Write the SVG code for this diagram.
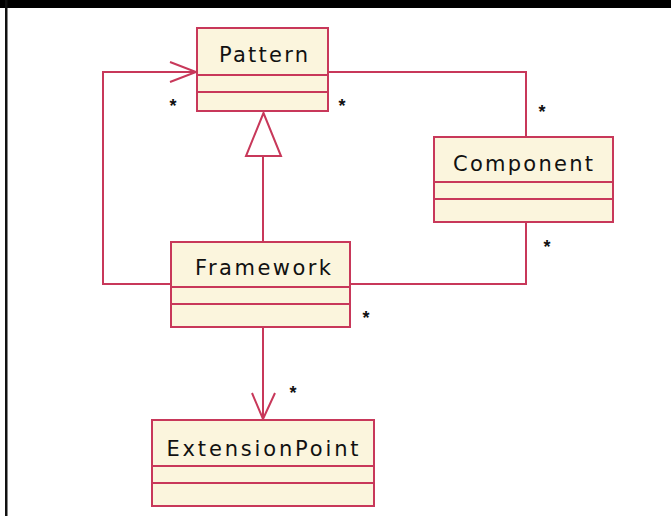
<svg xmlns="http://www.w3.org/2000/svg" width="671" height="516" viewBox="0 0 671 516">
<style>
.box{fill:#fbf5dd;stroke:#c8385a;stroke-width:2}
.sep{stroke:#c8385a;stroke-width:2}
.ln{fill:none;stroke:#c8385a;stroke-width:2}
.lbl{font-family:"DejaVu Sans","Liberation Sans",sans-serif;font-size:21px;fill:#111;text-anchor:middle}
.m{font-family:"Liberation Sans",Arial,sans-serif;font-size:18px;font-weight:bold;fill:#111;text-anchor:middle}
</style>
<rect x="0" y="0" width="671" height="516" fill="#ffffff"/>
<rect x="0" y="0" width="671" height="8" fill="#000"/>
<rect x="5" y="0" width="2.5" height="516" fill="#111"/>
<g id="connectors">
<polyline class="ln" points="171,284 103,284 103,72 196,72"/>
<polyline class="ln" points="170,62 196,72 170,82"/>
<polyline class="ln" points="328,72 526,72 526,137"/>
<polyline class="ln" points="526,222 526,284 350,284"/>
<line class="ln" x1="263" y1="156" x2="263" y2="242"/>
<polygon points="263.5,113 246,156 281,156" fill="#fff" stroke="#c8385a" stroke-width="2"/>
<line class="ln" x1="263" y1="327" x2="263" y2="419"/>
<polyline class="ln" points="252,393 263,419 275,393"/>
<text class="m" x="173" y="112">*</text>
<text class="m" x="342" y="112">*</text>
<text class="m" x="542" y="118">*</text>
<text class="m" x="547" y="253">*</text>
<text class="m" x="366" y="324">*</text>
<text class="m" x="293" y="399">*</text>
</g>
<g id="Pattern">
<rect class="box" x="197" y="28" width="131" height="83"/>
<line class="sep" x1="197" y1="75" x2="328" y2="75"/>
<line class="sep" x1="197" y1="92" x2="328" y2="92"/>
<text class="lbl" x="263.5" y="62" textLength="89" lengthAdjust="spacing">Pattern</text>
</g>
<g id="Component">
<rect class="box" x="434" y="137" width="179" height="85"/>
<line class="sep" x1="434" y1="182" x2="613" y2="182"/>
<line class="sep" x1="434" y1="199" x2="613" y2="199"/>
<text class="lbl" x="523" y="171" textLength="140" lengthAdjust="spacing">Component</text>
</g>
<g id="Framework">
<rect class="box" x="171" y="242" width="179" height="85"/>
<line class="sep" x1="171" y1="287" x2="350" y2="287"/>
<line class="sep" x1="171" y1="304" x2="350" y2="304"/>
<text class="lbl" x="263" y="275" textLength="136" lengthAdjust="spacing">Framework</text>
</g>
<g id="ExtensionPoint">
<rect class="box" x="152" y="420" width="222" height="86"/>
<line class="sep" x1="152" y1="466" x2="374" y2="466"/>
<line class="sep" x1="152" y1="483" x2="374" y2="483"/>
<text class="lbl" x="262.5" y="456" textLength="192" lengthAdjust="spacing">ExtensionPoint</text>
</g>
</svg>
